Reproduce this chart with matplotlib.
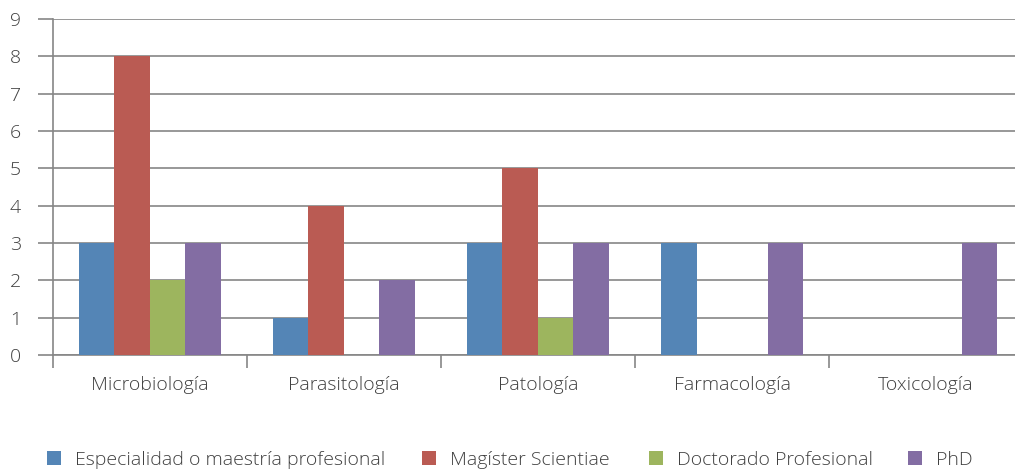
import numpy as np
import matplotlib
matplotlib.use("Agg")
import matplotlib.pyplot as plt
from matplotlib.patches import Patch

categories = ["Microbiología", "Parasitología", "Patología", "Farmacología", "Toxicología"]
series_names = ["Especialidad o maestría profesional", "Magíster Scientiae",
                "Doctorado Profesional", "PhD"]
especialidad = [3, 1, 3, 3, 0]
magister = [8, 4, 5, 0, 0]
doctorado = [2, 0, 1, 0, 0]
phd = [3, 2, 3, 3, 3]
colors = ["#5485B6", "#BA5B53", "#9DB55E", "#836DA3"]

plt.rcParams["font.family"] = ["Open Sans", "DejaVu Sans"]
plt.rcParams["font.weight"] = "light"
txt = "#404040"
grid = "#868686"
W, H = 1015, 473

fig = plt.figure(figsize=(W / 100, H / 100), dpi=100)
ax = fig.add_axes([0.052, 0.249, 0.956, 0.711])

values = [especialidad, magister, doctorado, phd]
bw = 0.183
x = np.arange(len(categories)) + 0.5
for i, (vals, c) in enumerate(zip(values, colors)):
    ax.bar(x + (i - 1.5) * bw, vals, width=bw, color=c, zorder=3)

ax.set_xlim(0, len(categories))
ax.set_ylim(0, 9)
ax.set_yticks(range(10))
ax.yaxis.grid(True, color=grid, linewidth=1.2, zorder=0)
ax.set_xticks(range(len(categories) + 1))
ax.set_xticklabels([])
ax.set_xticks(x, minor=True)
ax.set_xticklabels(categories, minor=True, fontsize=14, color=txt)
ax.tick_params(axis="x", which="major", length=9, color=grid, width=1.2)
ax.tick_params(axis="x", which="minor", length=0, pad=15)
ax.tick_params(axis="y", length=11, color=grid, width=1.2, labelsize=14,
               labelcolor=txt, pad=12)
for s in ["top", "right"]:
    ax.spines[s].set_visible(False)
ax.spines["left"].set_color(grid)
ax.spines["left"].set_linewidth(1.2)
ax.spines["bottom"].set_color(grid)
ax.spines["bottom"].set_linewidth(1.2)

# one legend entry per series, placed like the reference
leg_x = [47, 422, 649, 908]
for name, c, lx in zip(series_names, colors, leg_x):
    lg = fig.legend(handles=[Patch(facecolor=c, label=name)], loc="center left",
                    bbox_to_anchor=(lx / W, 1 - 460 / H), frameon=False,
                    fontsize=14, labelcolor=txt, borderpad=0, borderaxespad=0,
                    handlelength=0.72, handleheight=0.72, handletextpad=0.72)

fig.savefig("out.png", dpi=100)
